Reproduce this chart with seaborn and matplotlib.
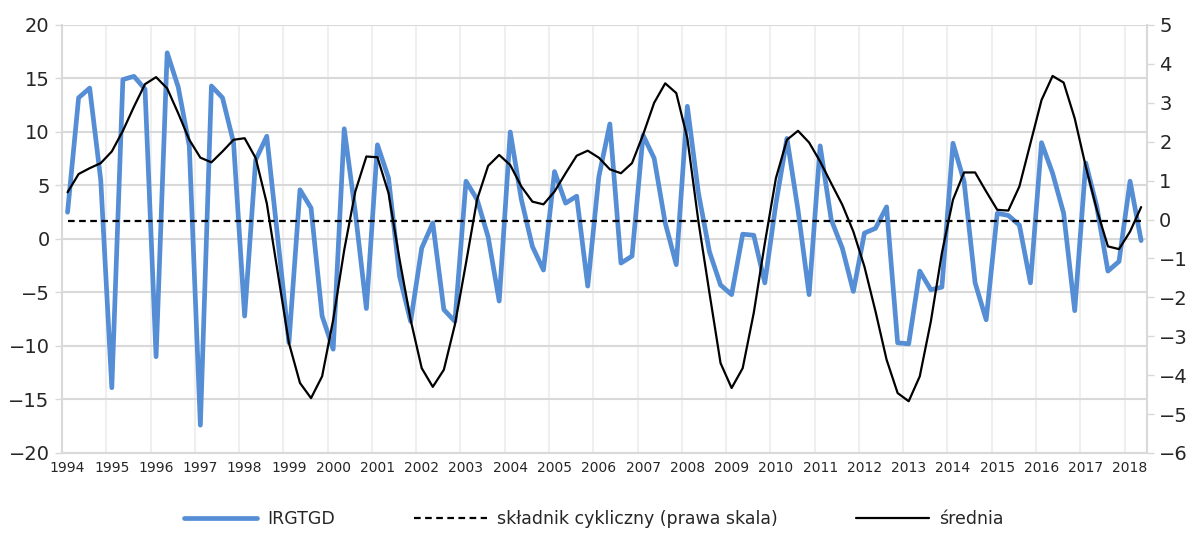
import numpy as np
import pandas as pd
import seaborn as sns
import matplotlib.pyplot as plt

# quarterly data 1994Q1 - 2018Q2
years = [str(y) for y in range(1994, 2019)]

irgtgd = [2.5, 13.2, 14.1, 5.5, -13.9, 14.9, 15.2, 14.0,
          -11.0, 17.4, 14.2, 8.7, -17.4, 14.3, 13.2, 9.0,
          -7.2, 7.4, 9.6, 0.0, -9.7, 4.6, 2.9, -7.2,
          -10.3, 10.3, 2.5, -6.5, 8.8, 5.7, -3.5, -7.7,
          -0.85, 1.5, -6.6, -7.7, 5.4, 3.7, 0.2, -5.8,
          10.0, 3.7, -0.7, -2.9, 6.3, 3.35, 4.0, -4.4,
          5.8, 10.75, -2.25, -1.6, 9.7, 7.55, 1.5, -2.4,
          12.4, 4.3, -1.2, -4.3, -5.2, 0.45, 0.35, -4.1,
          3.3, 9.4, 2.7, -5.2, 8.7, 1.8, -0.85, -4.9,
          0.55, 1.0, 3.0, -9.7, -9.8, -3.0, -4.75, -4.5,
          8.95, 5.4, -4.1, -7.55, 2.4, 2.2, 1.3, -4.1,
          9.0, 6.15, 2.4, -6.7, 7.1, 3.0, -3.0, -2.1,
          5.4, -0.15]

cykl = [0.70, 1.17, 1.32, 1.45, 1.75, 2.28, 2.90, 3.48,
        3.66, 3.37, 2.73, 2.05, 1.59, 1.47, 1.75, 2.05,
        2.09, 1.58, 0.42, -1.38, -3.17, -4.20, -4.59, -4.03,
        -2.58, -0.78, 0.72, 1.62, 1.60, 0.68, -1.03, -2.58,
        -3.82, -4.30, -3.86, -2.70, -1.12, 0.51, 1.38, 1.66,
        1.40, 0.85, 0.46, 0.39, 0.72, 1.19, 1.64, 1.77,
        1.59, 1.29, 1.19, 1.45, 2.18, 3.00, 3.50, 3.25,
        2.09, -0.05, -1.89, -3.69, -4.33, -3.82, -2.40, -0.61,
        1.06, 2.05, 2.28, 1.98, 1.49, 0.93, 0.38, -0.31,
        -1.21, -2.36, -3.60, -4.46, -4.67, -4.03, -2.62, -0.86,
        0.51, 1.21, 1.21, 0.72, 0.25, 0.23, 0.85, 1.96,
        3.07, 3.69, 3.52, 2.60, 1.36, 0.25, -0.69, -0.76,
        -0.31, 0.32]

srednia = [-0.03] * len(irgtgd)

df = pd.DataFrame({"q": np.arange(len(irgtgd)), "IRGTGD": irgtgd,
                   "cykl": cykl, "srednia": srednia})

sns.set_style("white")
plt.rcParams['font.family'] = ['DejaVu Sans']

fig = plt.figure(figsize=(11.88, 5.34), dpi=100)
ax = fig.add_axes([0.0522, 0.1517, 0.913, 0.8015])
ax2 = ax.twinx()

sns.lineplot(data=df, x="q", y="IRGTGD", ax=ax, color="#558ED5", lw=3.4,
             label="IRGTGD", legend=False)
sns.lineplot(data=df, x="q", y="srednia", ax=ax2, color="black", lw=1.6,
             linestyle=(0, (3, 2)), label="składnik cykliczny (prawa skala)", legend=False)
sns.lineplot(data=df, x="q", y="cykl", ax=ax2, color="black", lw=1.6,
             label="średnia", legend=False)

n = len(irgtgd)
ax.set_xlim(-0.5, n - 0.5)
ax.set_ylim(-20, 20)
ax2.set_ylim(-6, 5)
ax.set_yticks(range(-20, 21, 5))
ax2.set_yticks(range(-6, 6))

# year boundaries as gridlines, labels at first quarter
ax.set_xticks([4 * k - 0.5 for k in range(len(years))])
ax.set_xticklabels([])
ax.set_xticks([4 * k for k in range(len(years))], minor=True)
ax.set_xticklabels(years, minor=True, fontsize=10)
ax.tick_params(axis="x", which="minor", length=0, pad=6)
ax.tick_params(axis="x", which="major", length=5, color="#d9d9d9", width=1)
ax.tick_params(axis="y", length=5, color="#d9d9d9", width=1, labelsize=14, pad=4)
ax2.tick_params(axis="y", length=5, color="#d9d9d9", width=1, labelsize=14, pad=4)

ax.set_xlabel("")
ax.set_ylabel("")
ax2.set_ylabel("")

ax.grid(axis="y", color="#d9d9d9", lw=1.5)
ax.grid(axis="x", which="major", color="#efefef", lw=1.5)
ax.set_axisbelow(True)

for a in (ax, ax2):
    for s in a.spines.values():
        s.set_visible(False)
ax.spines["left"].set_visible(True)
ax.spines["left"].set_color("#d9d9d9")
ax.spines["left"].set_linewidth(1.5)
ax.spines["bottom"].set_visible(True)
ax.spines["bottom"].set_color("#d9d9d9")
ax.spines["bottom"].set_linewidth(1.5)
ax2.spines["right"].set_visible(True)
ax2.spines["right"].set_color("#d9d9d9")
ax2.spines["right"].set_linewidth(1.5)

h1, l1 = ax.get_legend_handles_labels()
h2, l2 = ax2.get_legend_handles_labels()
fig.legend(h1 + h2, l1 + l2, loc="center", bbox_to_anchor=(0.5, 0.028),
           ncol=3, frameon=False, fontsize=12.5, handlelength=4.2,
           columnspacing=4.5, handletextpad=0.6)

fig.savefig("out.png", dpi=100)
